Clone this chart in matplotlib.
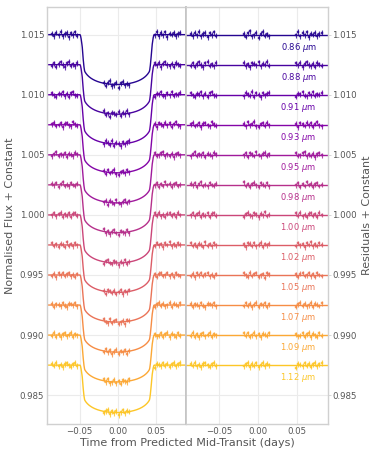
import numpy as np
import matplotlib
matplotlib.use("Agg")
import matplotlib.pyplot as plt

# ---------------- data ----------------
wavelengths = [0.86, 0.88, 0.91, 0.93, 0.95, 0.98, 1.00, 1.02, 1.05, 1.07, 1.09, 1.12]
baselines = [1.015, 1.0125, 1.010, 1.0075, 1.005, 1.0025, 1.000, 0.9975, 0.995, 0.9925, 0.990, 0.9875]
depths = [0.00415, 0.00412, 0.00410, 0.00400, 0.00400, 0.00398, 0.00400, 0.00395, 0.00392, 0.00392, 0.00390, 0.00395]
errors_ppm = [220, 220, 210, 200, 200, 190, 190, 190, 190, 200, 210, 220]

times = [-0.0860, -0.0833, -0.0806, -0.0779, -0.0752, -0.0725, -0.0698, -0.0671, -0.0644, -0.0617, -0.0590, -0.0563, -0.0536,
         -0.0180, -0.0153, -0.0126, -0.0099, -0.0072, -0.0045, -0.0018, 0.0009, 0.0036, 0.0063, 0.0090, 0.0117, 0.0144,
         0.0490, 0.0517, 0.0544, 0.0571, 0.0598, 0.0625, 0.0652, 0.0679, 0.0706, 0.0733, 0.0760, 0.0787, 0.0814]

# residuals in units of 14 ppm
res0 = [5, -8, 12, -3, 18, -10, 4, 9, -15, 7, -2, 14, -6, 3, -12, 8, 20, -9, -4, 11, -18, 6, 15, -7, 2, -11, -5, 16, -9, 10, -3, 13, -14, 6, -1, 9, -8, 4, 12]
res1 = [-6, 9, -11, 4, 13, -2, -14, 8, 17, -5, 3, -9, 10, 12, -7, 2, -16, 9, 5, -3, 14, -10, 7, -1, 18, -6, 8, -4, 11, -13, 5, 15, -2, -9, 6, -12, 10, 3, -5]
res2 = [10, -4, -13, 7, 2, 16, -8, 5, -11, 9, 14, -3, -7, -9, 13, 4, -6, 18, -12, 8, 1, -15, 10, -4, 6, 12, -12, 7, 3, 15, -5, -10, 9, -2, 14, -7, 4, -1, 11]
res3 = [3, 12, -7, -1, 9, -14, 6, 11, -4, -9, 15, 2, -6, 7, -10, 14, -3, 5, 19, -8, -13, 4, 9, -5, 12, -2, 6, -15, 10, 2, -7, 13, -4, 8, -11, 5, 16, -3, -8]
res4 = [-9, 5, 14, -6, 3, -2, 11, -12, 7, 1, -8, 13, 4, -4, 8, -13, 10, 2, -7, 15, -1, -10, 6, 12, -5, 3, 11, -6, -2, 9, 14, -10, 4, -7, 7, -14, 2, 10, -4]
res5 = [7, -3, 10, -12, 5, 15, -6, 2, -9, 12, -1, -5, 8, 15, -8, 4, -11, 6, 13, -3, -14, 9, 1, -6, 11, -9, -3, 9, -12, 5, -6, 16, -2, 8, -10, 3, 12, -7, 1]
res6 = [-2, 11, -8, 6, 14, -10, 3, -5, 9, -13, 7, 12, -4, -11, 6, 13, -2, -8, 10, 4, -15, 8, -3, 16, -7, 2, 9, -5, 14, -9, 2, -13, 7, 11, -4, 6, -10, 13, -1]
res7 = [12, -6, 3, -10, 8, 1, -13, 15, -4, 6, -8, 10, -2, 4, -14, 9, 7, -5, 11, -9, 2, 14, -12, 5, -3, 8, -7, 12, -3, 6, -14, 10, -1, 15, -8, 3, -5, 9, 2]
res8 = [-5, 8, -14, 10, -3, 13, -7, 4, 11, -9, 2, -12, 6, 9, -3, -10, 14, -6, 5, 12, -11, -2, 7, -15, 10, 3, 4, -11, 8, 13, -6, -2, 11, -9, 5, -13, 9, 1, -7]
res9 = [8, -11, 5, 2, -7, 12, -4, -13, 9, 6, -2, 10, -8, -6, 11, -4, 8, -13, 3, 15, -9, 6, -1, 10, -12, 4, -10, 5, 13, -4, 9, -8, -1, 14, -12, 7, 3, -6, 10]
res10 = [-3, 14, -9, 6, -12, 4, 10, -6, 1, 13, -10, 5, -1, 10, -5, 12, -9, -2, 14, -7, 5, -12, 9, 2, -4, 11, 6, -8, -3, 12, -10, 4, 15, -13, 8, -2, -9, 11, -5]
res11 = [9, -4, 12, -8, 3, -13, 7, 11, -2, -9, 5, 14, -6, -8, 4, 13, -11, 7, -3, 10, -14, 2, 12, -6, 8, -1, -16, 7, 2, -6, 11, -3, 9, -10, 5, 13, -7, 4, 12]
residuals = [res0, res1, res2, res3, res4, res5, res6, res7, res8, res9, res10, res11]
res_unit = 14e-6

yticks = [0.985, 0.990, 0.995, 1.000, 1.005, 1.010, 1.015]

# transit model parameters
t_mid = -0.001
half_dur = 0.0488
rp = 0.065
impact = 0.3
u1, u2 = 0.32, 0.15


def transit_model(t, depth):
    t = np.asarray(t)
    chord = np.sqrt((1 + rp) ** 2 - impact ** 2)
    x = (t - t_mid) / half_dur * chord
    z = np.sqrt(impact ** 2 + x ** 2)
    frac = np.clip(((1 + rp) - z) / (2 * rp), 0, 1)
    frac = frac * frac * (3 - 2 * frac)
    mu = np.sqrt(np.clip(1 - np.minimum(z, 1) ** 2, 0, 1))
    inten = 1 - u1 * (1 - mu) - u2 * (1 - mu) ** 2
    mu0 = np.sqrt(1 - impact ** 2)
    i0 = 1 - u1 * (1 - mu0) - u2 * (1 - mu0) ** 2
    return 1 - depth * inten / i0 * frac


# ---------------- figure ----------------
W, H = 374, 455
fig = plt.figure(figsize=(W / 100, H / 100), dpi=100)
x0, x1, x2 = 47 / W, 186 / W, 328 / W
y0, y1 = 1 - 424 / H, 1 - 7 / H
axL = fig.add_axes([x0, y0, x1 - x0, y1 - y0])
axR = fig.add_axes([x1, y0, x2 - x1, y1 - y0], sharey=axL)

colors = plt.cm.plasma(np.linspace(0.04, 0.88, len(wavelengths)))
text_col = "#555555"
grid_col = "#ebebeb"
spine_col = "#d0d0d0"

t_arr = np.array(times)
t_fine = np.linspace(-0.1, 0.1, 800)
for i, wl in enumerate(wavelengths):
    c = colors[i]
    base = baselines[i]
    res = np.array(residuals[i]) * res_unit
    err = errors_ppm[i] * 1e-6
    model_pts = transit_model(t_arr, depths[i])
    data = base - 1 + model_pts + res
    axL.plot(t_fine, base - 1 + transit_model(t_fine, depths[i]), color=c, lw=1.0, zorder=2)
    axL.errorbar(t_arr, data, yerr=err, fmt='s', ms=2.0, color=c, mec=c, mew=0.3,
                 elinewidth=0.8, capsize=0, alpha=0.8, zorder=3)
    axR.axhline(base, color=c, lw=1.0, zorder=2)
    axR.errorbar(t_arr, base + res, yerr=err, fmt='s', ms=2.0, color=c, mec=c, mew=0.3,
                 elinewidth=0.8, capsize=0, alpha=0.8, zorder=3)
    axR.text(0.052, base - 0.00105, f"{wl:.2f} $\\mu$m", color=c, fontsize=6,
             ha='center', va='center', zorder=4)

for ax in (axL, axR):
    ax.set_xticks([-0.05, 0.0, 0.05])
    ax.set_xticklabels(["\u22120.05", "0.00", "0.05"])
    ax.grid(True, color=grid_col, lw=0.8, zorder=0)
    ax.set_axisbelow(True)
    for s in ax.spines.values():
        s.set_color(spine_col)
        s.set_linewidth(1.0)
    ax.tick_params(axis='both', labelsize=6.2, colors=text_col, length=2.5, width=0.6,
                   color=spine_col, pad=2)

axL.set_xlim(-0.093, 0.0895)
axR.set_xlim(-0.092, 0.0897)
axL.set_ylim(0.9826, 1.0173)
axL.set_yticks(yticks)
axL.set_yticklabels([f"{v:.3f}" for v in yticks])
axL.tick_params(axis='y', length=0)
axL.tick_params(axis='x', length=0)
axR.tick_params(axis='x', length=0)
axR.yaxis.tick_right()
axR.tick_params(axis='y', labelright=True, labelleft=False, right=True, left=False,
                length=2, pad=1)

axL.spines['right'].set_color("#c4c4c4")
axL.spines['right'].set_linewidth(1.2)
axR.spines['left'].set_color("#c4c4c4")
axR.spines['left'].set_linewidth(1.2)

ymid = (y0 + y1) / 2
fig.text(10 / W, ymid, "Normalised Flux + Constant", fontsize=8, color=text_col,
         rotation=90, ha='center', va='center')
fig.text(367 / W, ymid, "Residuals + Constant", fontsize=8, color=text_col,
         rotation=90, ha='center', va='center')
fig.text((x0 + x2) / 2, 1 - 443 / H, "Time from Predicted Mid-Transit (days)",
         fontsize=8, color=text_col, ha='center', va='center')

fig.savefig("out.png", dpi=100)
